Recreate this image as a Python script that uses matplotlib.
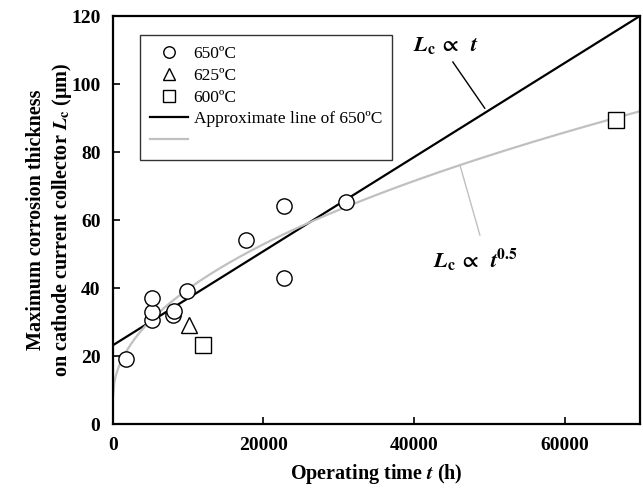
import numpy as np
import matplotlib
matplotlib.use('Agg')
import matplotlib.pyplot as plt

plt.rcParams['font.family'] = 'Liberation Serif'
plt.rcParams['mathtext.fontset'] = 'stix'

# 650 C data
t650 = [1700, 5200, 5200, 5200, 8000, 8100, 9900, 17700, 22700, 22700, 30900]
L650 = [19.1, 30.5, 33.0, 37.0, 32.0, 33.2, 39.0, 54.0, 64.2, 43.0, 65.2]
# 625 C data
t625 = [10100]
L625 = [29.0]
# 600 C data
t600 = [11900, 66900]
L600 = [23.2, 89.3]

# fitted lines
lin_a, lin_b = 23.2, 0.001383      # L = a + b t
sq_a, sq_b = 8.0, 0.3175           # L = a + b t^0.5

fig = plt.figure(figsize=(6.43, 4.88), dpi=100)
ax = fig.add_axes([0.1757, 0.131, 0.8193, 0.836])

grey = '#c0c0c0'
tt = np.linspace(0, 70000, 400)
ax.plot(tt, lin_a + lin_b * tt, color='black', lw=1.6, label='Approximate line of 650ºC', zorder=2)
ax.plot(tt, sq_a + sq_b * np.sqrt(tt), color=grey, lw=1.6, label=' ', zorder=2)

ax.plot(t650, L650, 'o', ms=11, mfc='white', mec='black', mew=1.0, ls='none', label='650ºC', zorder=3)
ax.plot(t625, L625, '^', ms=11, mfc='white', mec='black', mew=1.0, ls='none', label='625ºC', zorder=3)
ax.plot(t600, L600, 's', ms=11, mfc='white', mec='black', mew=1.0, ls='none', label='600ºC', zorder=3)

h, l = ax.get_legend_handles_labels()
order = [2, 3, 4, 0, 1]
leg = ax.legend([h[i] for i in order], [l[i] for i in order], loc='upper left',
                bbox_to_anchor=(0.051, 0.953), borderaxespad=0, fontsize=12.5,
                frameon=True, fancybox=False, edgecolor='black', markerscale=0.75,
                handlelength=2.2, handletextpad=0.3, borderpad=0.6, labelspacing=0.33)
leg.get_frame().set_linewidth(1.0)

ax.set_xlim(0, 70000)
ax.set_ylim(0, 120)
ax.set_xticks([0, 20000, 40000, 60000])
ax.set_yticks(np.arange(0, 121, 20))
ax.tick_params(direction='in', length=5, width=1.2, labelsize=14)
ax.tick_params(axis='x', pad=9)
ax.tick_params(axis='y', pad=9)
for lab in ax.get_xticklabels() + ax.get_yticklabels():
    lab.set_fontweight('bold')
for sp in ax.spines.values():
    sp.set_linewidth(1.6)

ax.set_xlabel('Operating time $\\boldsymbol{t}$ (h)', fontsize=14.5, fontweight='bold', labelpad=6)
ax.set_ylabel('Maximum corrosion thickness\non cathode current collector $\\boldsymbol{L}_{\\mathbf{c}}$ (μm)',
              fontsize=14.5, fontweight='bold', labelpad=-2, linespacing=1.25)

ax.text(39800, 111.5, '$\\boldsymbol{L}_{\\mathbf{c}}\\,\\boldsymbol{\\propto}\\ \\ \\boldsymbol{t}$',
        fontsize=16, ha='left', va='center')
ax.plot([45160, 49400], [106.5, 92.9], color='black', lw=1.0)

ax.text(42500, 48.2, '$\\boldsymbol{L}_{\\mathbf{c}}\\,\\boldsymbol{\\propto}\\ \\ \\boldsymbol{t}^{\\mathbf{0.5}}$',
        fontsize=16, ha='left', va='center')
ax.plot([46100, 48750], [76.2, 55.6], color=grey, lw=1.0)

fig.savefig('out.png', dpi=100)
